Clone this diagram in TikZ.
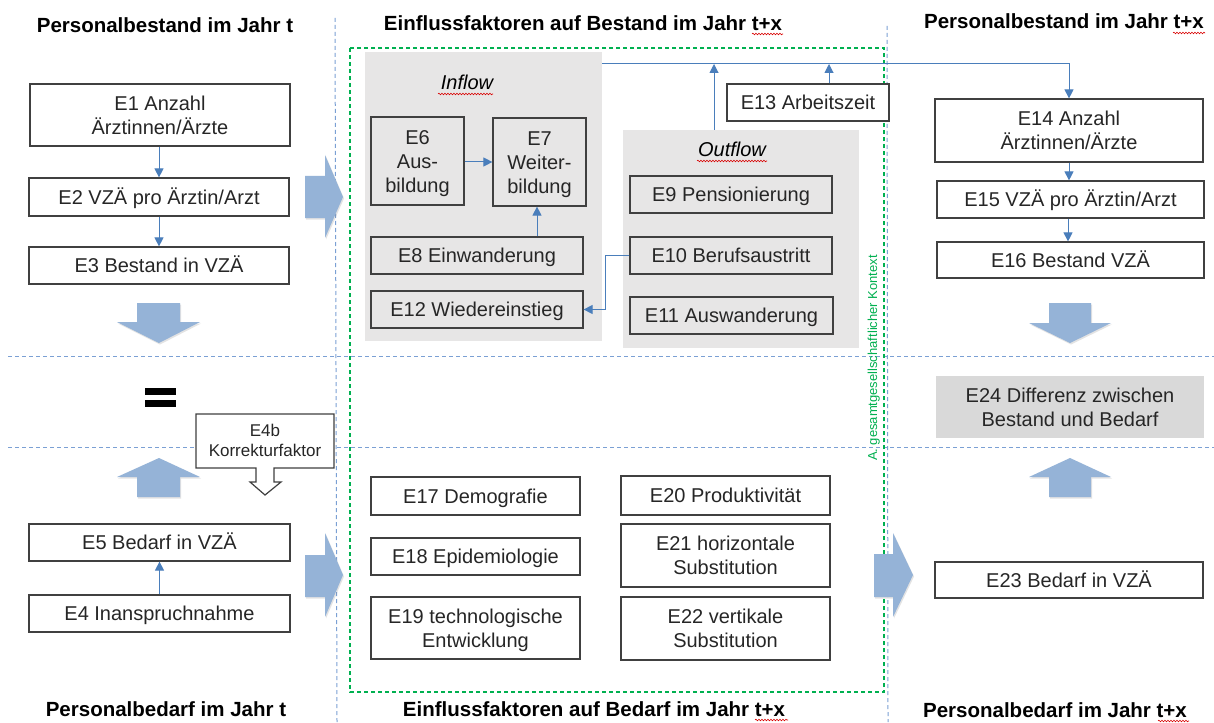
\documentclass[tikz,border=0pt]{standalone}
\usepackage{fontspec}
\setmainfont{Liberation Sans}
\usetikzlibrary{arrows.meta,shadows,decorations.pathmorphing}
\definecolor{connc}{HTML}{4A7EBB}
\definecolor{arrc}{HTML}{95B3D7}
\definecolor{gridc}{HTML}{7BA0D4}
\definecolor{grn}{HTML}{00B050}
\definecolor{panelc}{HTML}{E7E6E6}
\definecolor{diffc}{HTML}{D9D9D9}
\definecolor{boxc}{HTML}{404040}
\definecolor{txt}{HTML}{262626}
\newcommand\myfs{\fontsize{20}{24}\selectfont}
\newcommand\myfsttl{\fontsize{20.5}{24}\selectfont}
\newcommand\myfssmall{\fontsize{17}{20.4}\selectfont}
\newcommand\myfsctx{\fontsize{13}{15}\selectfont}
\tikzset{
  bx/.style={draw=boxc, line width=1.2pt, fill=white, text=txt, inner sep=0pt, align=center, font=\myfs},
  bxg/.style={bx, fill=none},
  lone/.style={text height=14.3pt, text depth=0pt},
  ltwo/.style={text height=38.3pt, text depth=0pt},
  conn/.style={draw=connc, line width=1pt, -{Triangle[width=9pt,length=9pt]}},
  connplain/.style={draw=connc, line width=1pt},
  barrow/.style={fill=arrc, draw=none, drop shadow={opacity=0.22, shadow xshift=1pt, shadow yshift=-1.5pt}},
  gridline/.style={draw=gridc, line width=1pt, dash pattern=on 4pt off 3pt},
  grnline/.style={draw=grn, line width=1.1pt, dash pattern=on 4pt off 3pt},
  panel/.style={fill=panelc, draw=none, inner sep=0pt},
  ttl/.style={font=\bfseries\myfsttl, text=black, anchor=base},
  spell/.style={draw=red!85!black, line width=0.6pt, decorate, decoration={snake, segment length=3pt, amplitude=0.8pt}},
}
\begin{document}
\begin{tikzpicture}[x=1pt, y=-1pt]
\useasboundingbox[fill=white] (0,0) rectangle (1214,722);

% grid lines
\draw[gridline] (335,18) -- (337,722);
\draw[gridline] (887,26) -- (888,722);
\draw[gridline] (8,356) -- (1214,356);
\draw[gridline] (8,447) -- (1214,447);

% green context frame
\draw[grnline] (350,48) rectangle (884,692);
\node[rotate=90, text=grn, font=\myfsctx, inner sep=0pt, text height=9.3pt, text depth=0pt] (ctx) at (872.5,358) {A. gesamtgesellschaftlicher Kontext};

% titles
\node[ttl] (T1) at (165,33) {Personalbestand im Jahr t};
\node[ttl] (T2) at (583,31) {Einflussfaktoren auf Bestand im Jahr t+x};
\node[ttl] (T3) at (1064,29) {Personalbestand im Jahr t+x};
\node[ttl] (T4) at (166,716) {Personalbedarf im Jahr t};
\node[ttl] (T5) at (594,716) {Einflussfaktoren auf Bedarf im Jahr t+x};
\node[ttl] (T6) at (1055,717) {Personalbedarf im Jahr t+x};
\draw[spell] (752,34) -- (783,34);
\draw[spell] (1173,33) -- (1205,33);
\draw[spell] (755,720) -- (788,720);
\draw[spell] (1158,721) -- (1189,721);

% panels
\node[panel, minimum width=237pt, minimum height=289pt] (inflow) at (483.5,196.5) {};
\node[panel, minimum width=236pt, minimum height=218pt] (outflow) at (741,239) {};
\node[font=\itshape\myfs, text=black, anchor=base] (inlbl) at (467,90) {Inflow};
\node[font=\itshape\myfs, text=black, anchor=base] (outlbl) at (732,157) {Outflow};
\draw[spell] (438,94) -- (493,94);
\draw[spell] (697,161) -- (767,161);

% left column
\node[bx, ltwo, minimum width=260pt, minimum height=62pt] (E1) at (160,115) {E1 Anzahl\\Ärztinnen/Ärzte};
\node[bx, lone, minimum width=260pt, minimum height=38pt] (E2) at (159,197) {E2 VZÄ pro Ärztin/Arzt};
\node[bx, lone, minimum width=260pt, minimum height=37pt] (E3) at (159,265.5) {E3 Bestand in VZÄ};
\node[bx, lone, minimum width=261pt, minimum height=37pt] (E5) at (159.5,542.5) {E5 Bedarf in VZÄ};
\node[bx, lone, minimum width=261pt, minimum height=37pt] (E4) at (159.5,613.5) {E4 Inanspruchnahme};
\draw[conn] (E1.south -| E2.north) -- (E2.north);
\draw[conn] (E2.south) -- (E3.north);
\draw[conn] (E4.north) -- (E5.south);

% equal sign
\fill[black] (145,388) rectangle (176,395);
\fill[black] (145,399.5) rectangle (176,406.5);

% E4b callout
\draw[draw=boxc, line width=1.2pt, fill=white] (196,414) -- (334,414) -- (334,468) -- (274,468) -- (274,482) -- (281,482) -- (265,495) -- (250,482) -- (256,482) -- (256,468) -- (196,468) -- cycle;
\node[font=\myfssmall, text=txt, align=center, inner sep=0pt, text height=32.6pt, text depth=0pt] (E4b) at (265,440.5) {E4b\\Korrekturfaktor};

% inflow boxes
\node[bxg, minimum width=93pt, minimum height=88pt, text height=62.3pt, text depth=0pt] (E6) at (417.5,161) {E6\\Aus-\\bildung};
\node[bxg, minimum width=93pt, minimum height=88pt, text height=62.3pt, text depth=0pt] (E7) at (539.5,162) {E7\\Weiter-\\bildung};
\node[bxg, lone, minimum width=212pt, minimum height=37pt] (E8) at (477,255.5) {E8 Einwanderung};
\node[bxg, lone, minimum width=212pt, minimum height=37pt] (E12) at (477,309.5) {E12 Wiedereinstieg};
\draw[conn] (E6.east |- 0,162) -- (E7.west |- 0,162);
\draw[conn] (E8.north -| 537,0) -- (E7.south -| 537,0);

% outflow boxes
\node[bxg, lone, minimum width=202pt, minimum height=37pt] (E9) at (731,194.5) {E9 Pensionierung};
\node[bxg, lone, minimum width=202pt, minimum height=37pt] (E10) at (731,255.5) {E10 Berufsaustritt};
\node[bxg, lone, minimum width=203pt, minimum height=37pt] (E11) at (731.5,315.5) {E11 Auswanderung};
\draw[conn] (E10.west) -- ++(-24,0) |- (E12.east);

% E13 and bus
\node[bx, lone, minimum width=162pt, minimum height=37pt] (E13) at (808,102.5) {E13 Arbeitszeit};
\coordinate (busY) at (0,64);
\coordinate (o1) at (714,64);
\coordinate (o2) at (829,64);
\draw[connplain] (inflow.east |- busY) -- (o1);
\draw[conn] (o1 |- outflow.north) -- (o1);
\draw[conn] (o2 |- E13.north) -- (o2);

% right column
\node[bx, ltwo, minimum width=268pt, minimum height=63pt] (E14) at (1069,130.5) {E14 Anzahl\\Ärztinnen/Ärzte};
\node[bx, lone, minimum width=267pt, minimum height=37pt] (E15) at (1070.5,199.5) {E15 VZÄ pro Ärztin/Arzt};
\node[bx, lone, minimum width=267pt, minimum height=36pt] (E16) at (1070.5,260) {E16 Bestand VZÄ};
\draw[conn] (inflow.east |- busY) -| (E14.north);
\draw[conn] (E14.south) -- (E14.south |- E15.north);
\draw[conn] (E15.south -| 1068,0) -- (E16.north -| 1068,0);
\node[fill=diffc, draw=none, text=txt, inner sep=0pt, align=center, font=\myfs, ltwo, minimum width=268pt, minimum height=62pt] (E24) at (1070,407) {E24 Differenz zwischen\\Bestand und Bedarf};
\node[bx, lone, minimum width=268pt, minimum height=36pt] (E23) at (1069,580) {E23 Bedarf in VZÄ};

% demand factors
\node[bx, lone, minimum width=209pt, minimum height=38pt] (E17) at (475.5,496) {E17 Demografie};
\node[bx, lone, minimum width=209pt, minimum height=37pt] (E18) at (475.5,556.5) {E18 Epidemiologie};
\node[bx, ltwo, minimum width=209pt, minimum height=62pt] (E19) at (475.5,628) {E19 technologische\\Entwicklung};
\node[bx, lone, minimum width=209pt, minimum height=39pt] (E20) at (725.5,495.5) {E20 Produktivität};
\node[bx, ltwo, minimum width=209pt, minimum height=63pt] (E21) at (725.5,555.5) {E21 horizontale\\Substitution};
\node[bx, ltwo, minimum width=209pt, minimum height=63pt] (E22) at (725.5,628.5) {E22 vertikale\\Substitution};

% block arrows
\path[barrow] (137,303) -- (180,303) -- (180,322) -- (200,322) -- (159,343) -- (117,322) -- (137,322) -- cycle;
\path[barrow] (159,458) -- (200,477) -- (180,477) -- (180,497) -- (137,497) -- (137,477) -- (117,477) -- cycle;
\path[barrow] (305,176) -- (325,176) -- (325,155) -- (343,197) -- (325,238) -- (325,218) -- (305,218) -- cycle;
\path[barrow] (305,555) -- (325,555) -- (325,533) -- (343,575) -- (325,617) -- (325,597) -- (305,597) -- cycle;
\path[barrow] (874,554) -- (893,554) -- (893,533) -- (913,575) -- (893,617) -- (893,597) -- (874,597) -- cycle;
\path[barrow] (1049,303) -- (1091,303) -- (1091,323) -- (1111,323) -- (1070,343) -- (1029,323) -- (1049,323) -- cycle;
\path[barrow] (1070,458) -- (1111,477) -- (1091,477) -- (1091,497) -- (1049,497) -- (1049,477) -- (1029,477) -- cycle;
\end{tikzpicture}
\end{document}
